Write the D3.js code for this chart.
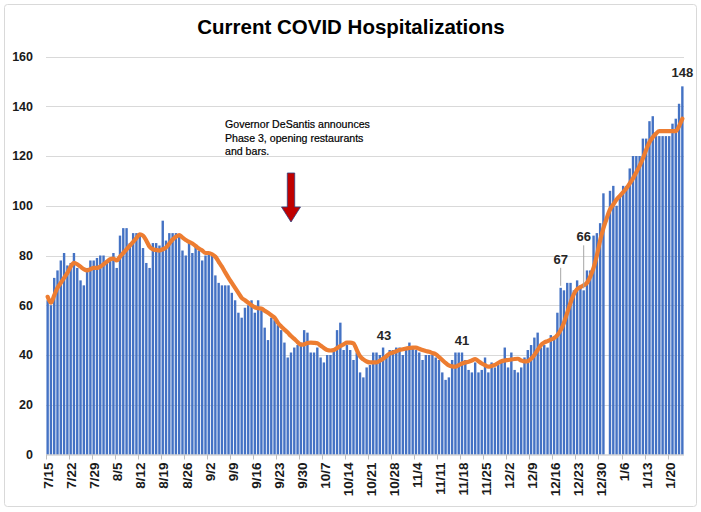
<!DOCTYPE html>
<html><head><meta charset="utf-8">
<script src="https://cdn.jsdelivr.net/npm/d3@7"></script>
<style>
html,body{margin:0;padding:0;background:#fff;}
svg{display:block;font-family:"Liberation Sans",Arial,sans-serif;}
</style></head>
<body><svg id="chart" width="701" height="512"></svg>
<script>
// ---- data ----
const startDate = new Date(2020, 6, 15);
const endDate = new Date(2021, 0, 25);
const categories = d3.timeDay.range(startDate, endDate).map(d3.timeFormat("%-m/%-d"));

const hospitalizations = [
  62,60,71,74,78,81,76,77,81,75,70,68,75,78,78,79,80,80,78,79,
  81,75,88,91,91,85,89,89,88,83,77,75,85,85,84,94,86,89,89,89,
  88,82,80,85,81,84,82,78,80,81,80,72,69,68,68,68,65,62,57,55,
  59,60,62,57,62,58,51,46,55,54,52,50,45,39,41,43,44,45,50,49,
  41,41,43,39,37,40,40,42,50,53,42,44,42,38,41,33,31,35,36,41,
  41,40,43,40,42,42,43,43,40,42,45,43,42,41,38,40,40,40,39,38,
  33,30,31,38,41,41,41,38,34,33,37,33,34,39,33,37,35,36,38,43,
  35,41,34,33,35,39,42,44,47,49,43,44,43,48,47,57,67,66,69,69,
  66,70,68,66,74,74,88,89,93,105,null,106,108,100,104,108,108,115,120,120,
  120,127,127,134,136,128,128,128,128,128,133,135,141,148
];

const movingAverage = [
  63.4,61,64,67,69,71,73,75.5,77,76.5,75.5,74.5,74,74.5,75,75,75.5,76.5,77.5,78.5,
  78.8,78,79.5,81,82.5,84,85.5,87,88.5,88,86,83.5,82.5,82.2,82,82.5,83.2,84.8,86.4,87.5,
  88.2,87.2,86.2,85.5,84.8,83.8,82.8,82,81,81,80.5,79.5,77.5,75.5,73.2,71,69,67,65,63,
  62,61,60,59.2,58.8,58.7,57.8,57,56,55,53,51.5,50.2,49,47.6,46.5,45.2,44.2,44.3,44.8,
  45,44.9,44.7,43.8,42.8,42,41.8,42,42.8,43.6,44.3,45,45,44.7,42,39.5,38.2,37.4,37,37,
  37,37.7,38.5,39.5,40.6,41,41.5,42,42.3,42.6,42.8,43,43,42.5,42,41.6,41.3,40.8,40.3,39.2,
  38,36.8,35.8,35.4,35.3,35.9,36.6,37,37.3,37.8,38.4,37.5,36.6,35.9,35.3,35.6,36,36.8,37.5,37.8,
  38,38.2,38.4,38.5,37.8,37.4,37.5,38.5,40,42,44,45,45.6,46.2,46.8,48,50,53,57,61,
  64.5,66.5,67.3,68,69,71.5,75,80,86,91,95,98.5,100.5,102.5,104,105.5,107,109,111,113.5,
  116,119,122.5,125.5,127.5,129,130,130,130,130,130,130,132,135
];

const tickLabels = ["7/15","7/22","7/29","8/5","8/12","8/19","8/26","9/2","9/9","9/16",
  "9/23","9/30","10/7","10/14","10/21","10/28","11/4","11/11","11/18","11/25",
  "12/2","12/9","12/16","12/23","12/30","1/6","1/13","1/20"];
const yTicks = [0,20,40,60,80,100,120,140,160];

const labelDates = ["10/25","11/18","12/18","12/25","1/24"];
const labelTexts = ["43","41","67","66","148"];
const leaderDates = ["12/18","12/25"];

const titleText = "Current COVID Hospitalizations";
const noteLines = ["Governor DeSantis announces","Phase 3, opening restaurants","and bars."];
const arrowDate = "9/27";

// ---- layout ----
const svg = d3.select("#chart");
const L = 46, R = 684, T = 56.5, B = 454.5;

svg.append("rect").attr("x",4.5).attr("y",4.5).attr("width",692).attr("height",502)
  .attr("rx",3).attr("fill","#fff").attr("stroke","#d9d9d9").attr("stroke-width",1);

const x = d3.scaleBand().domain(categories).range([L, R]).paddingInner(0.27).paddingOuter(0.135);
const y = d3.scaleLinear().domain([0,160]).range([B, T]);
const step = x.step();
const cx = d => x(d) + x.bandwidth()/2;

// gridlines
svg.append("g").selectAll("line").data(yTicks.filter(v => v > 0)).join("line")
  .attr("x1", L).attr("x2", R).attr("y1", d => Math.round(y(d))+0.5).attr("y2", d => Math.round(y(d))+0.5)
  .attr("stroke","#d9d9d9").attr("stroke-width",1);

// y labels
svg.append("g").selectAll("text").data(yTicks).join("text")
  .attr("x", 33).attr("y", d => y(d)).attr("dy","0.35em").attr("text-anchor","end")
  .attr("font-size",12.5).attr("font-weight","bold").attr("fill","#1a1a1a").text(d => d);

// bars
const barData = categories.map((c,i) => ({c, v: hospitalizations[i]})).filter(d => d.v != null);
svg.append("g").selectAll("rect").data(barData).join("rect")
  .attr("x", d => x(d.c)).attr("width", x.bandwidth())
  .attr("y", d => y(d.v)).attr("height", d => B - y(d.v))
  .attr("fill","#4472c4");

// x axis line
svg.append("line").attr("x1",L).attr("x2",R).attr("y1",B+0.5).attr("y2",B+0.5)
  .attr("stroke","#bfbfbf").attr("stroke-width",1);
const xAxis = svg.append("g");
tickLabels.forEach(t => {
  const xl = x(t) - step*x.paddingInner()/2;
  xAxis.append("line").attr("x1", Math.round(xl)+0.5).attr("x2", Math.round(xl)+0.5)
    .attr("y1", B).attr("y2", B+5).attr("stroke","#bfbfbf");
  xAxis.append("text")
    .attr("transform", `translate(${cx(t)+1},${B+8}) rotate(-90)`)
    .attr("text-anchor","end").attr("dy","0.35em")
    .attr("font-size",13.5).attr("font-weight","bold").attr("fill","#1a1a1a").text(t);
});

// moving average line
const lineGen = d3.line().x((d,i) => cx(categories[i])).y(d => y(d)).curve(d3.curveMonotoneX);
svg.append("path").datum(movingAverage).attr("d", lineGen)
  .attr("fill","none").attr("stroke","#ed7d31").attr("stroke-width",4.2)
  .attr("stroke-linejoin","round").attr("stroke-linecap","round");

// data labels
const valueOf = d => hospitalizations[categories.indexOf(d)];
const labelOffsets = {"10/25":[1,-8],"11/18":[0,-8],"12/18":[0,-24],"12/25":[0,-49],"1/24":[0,-9]};
labelDates.forEach((d,i) => {
  const off = labelOffsets[d];
  const lx = cx(d) + off[0], ly = y(valueOf(d)) + off[1];
  svg.append("text").attr("x", lx).attr("y", ly).attr("text-anchor","middle")
    .attr("font-size",13).attr("font-weight","bold").attr("fill","#262626").text(labelTexts[i]);
  if (leaderDates.includes(d)) {
    svg.append("line").attr("x1", lx).attr("x2", lx)
      .attr("y1", ly + 4).attr("y2", y(valueOf(d)) - 2)
      .attr("stroke","#a6a6a6").attr("stroke-width",1);
  }
});

// title
svg.append("text").attr("x", 351).attr("y", 34).attr("text-anchor","middle")
  .attr("font-size",20.5).attr("font-weight","bold").attr("fill","#000").text(titleText);

// annotation
const note = svg.append("text").attr("x", 225).attr("y", 128)
  .attr("font-size",10.6).attr("fill","#000").attr("stroke","#000").attr("stroke-width",0.2);
noteLines.forEach((t,i) => note.append("tspan").attr("x",225).attr("dy", i === 0 ? 0 : 13.5).text(t));

// arrow
const ax = cx(arrowDate);
const arrowPath = d3.path();
arrowPath.moveTo(ax-3.7, 173); arrowPath.lineTo(ax+3.7, 173); arrowPath.lineTo(ax+3.7, 207);
arrowPath.lineTo(ax+9.5, 207); arrowPath.lineTo(ax, 222); arrowPath.lineTo(ax-9.5, 207);
arrowPath.lineTo(ax-3.7, 207); arrowPath.closePath();
svg.append("path").attr("d", arrowPath.toString()).attr("fill","#c00000")
  .attr("stroke","#2f3f7f").attr("stroke-width",0.8);
</script></body></html>
